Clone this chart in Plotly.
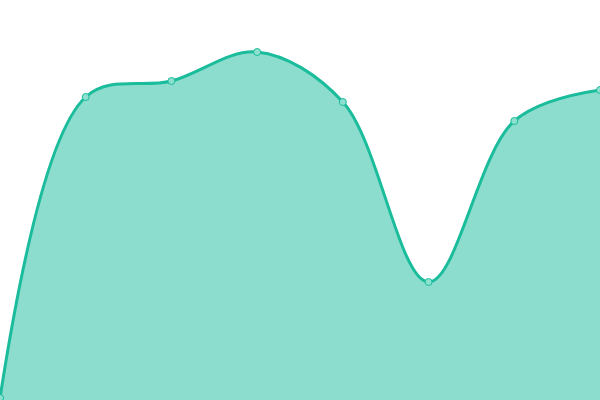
import plotly.graph_objects as go

# x positions are just indexes (0 = bottom edge)
labels = [0, 1, 2, 3, 4, 5, 6, 7]
values = [2, 303, 319, 348, 298, 118, 279, 310]

fig = go.Figure()
fig.add_trace(go.Scatter(
    x=labels, y=values,
    mode='lines+markers',
    line=dict(color='#1abc9c', width=3, shape='spline', smoothing=1.0),
    marker=dict(size=7, color='#8ee0cf', line=dict(color='#1abc9c', width=1)),
    fill='tozeroy',
    fillcolor='rgba(26,188,156,0.5)',
    cliponaxis=False,
    hoverinfo='skip',
))

fig.update_layout(
    width=600, height=400,
    margin=dict(l=0, r=0, t=0, b=0),
    paper_bgcolor='white', plot_bgcolor='white',
    showlegend=False,
    xaxis=dict(range=[0, 7], visible=False),
    yaxis=dict(range=[0, 400], visible=False),
)

# page body has a default 8px margin, drop it so the plot sits at 0,0
fig.write_html("out.html", config={'displayModeBar': False},
               post_script="document.body.style.margin='0';")
